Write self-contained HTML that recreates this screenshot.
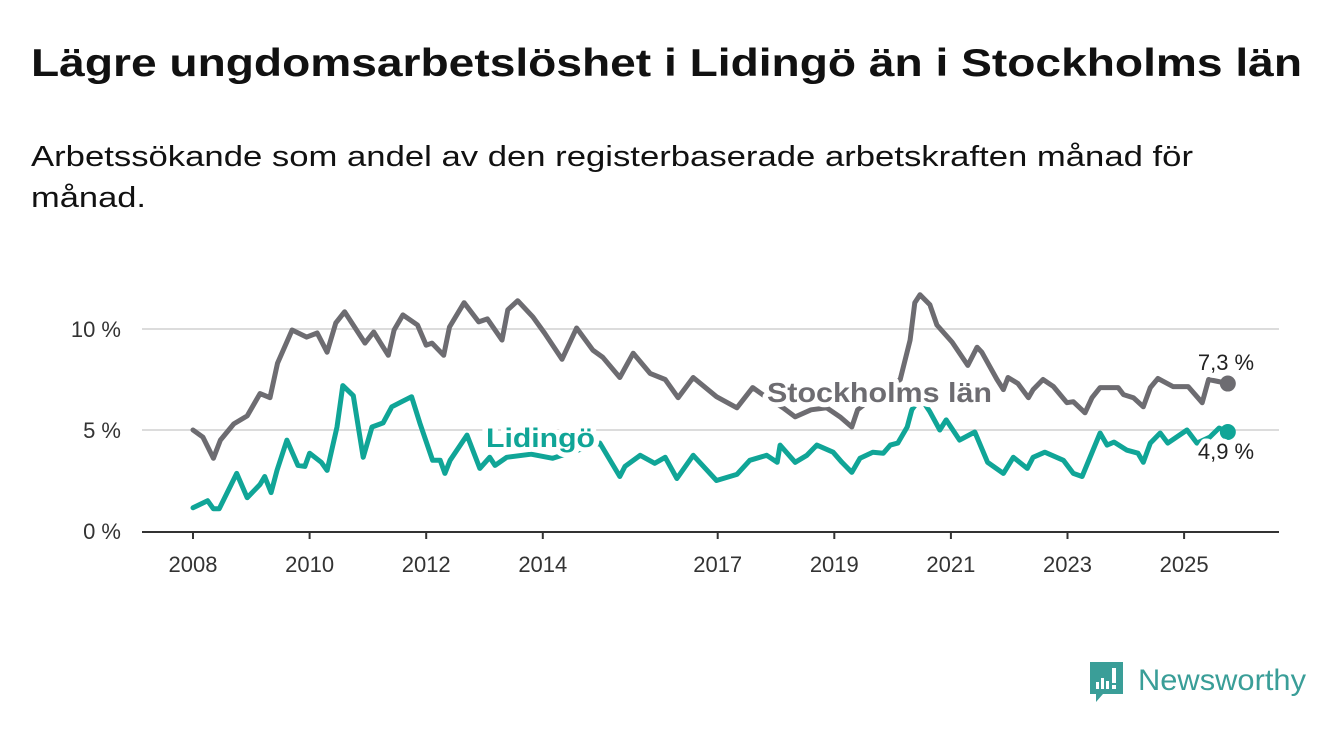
<!DOCTYPE html>
<html><head><meta charset="utf-8">
<style>
html,body{margin:0;padding:0;background:#fff;}
svg{display:block;font-family:"Liberation Sans",sans-serif;}
</style></head>
<body>
<svg id="chart" width="1340" height="734" viewBox="0 0 1340 734" xmlns="http://www.w3.org/2000/svg">
<text x="31" y="76" font-size="39" font-weight="bold" fill="#111" textLength="1271" lengthAdjust="spacingAndGlyphs">Lägre ungdomsarbetslöshet i Lidingö än i Stockholms län</text>
<text x="31" y="166" font-size="29" fill="#111" textLength="1162" lengthAdjust="spacingAndGlyphs">Arbetssökande som andel av den registerbaserade arbetskraften månad för</text>
<text x="31" y="207" font-size="29" fill="#111" textLength="115" lengthAdjust="spacingAndGlyphs">månad.</text>
<g id="grid"></g>
<g id="axes"></g>
<g id="series"></g>
<g id="labels"></g>
<g>
  <path d="M1090 662 h33 v32 h-20 l-7 8 v-8 h-6 z" fill="#3a9e98"/>
  <rect x="1096" y="682" width="3" height="7" fill="#fff"/>
  <rect x="1101" y="678" width="3" height="11" fill="#fff"/>
  <rect x="1106" y="681" width="3" height="8" fill="#fff"/>
  <rect x="1112" y="668" width="4" height="15" fill="#fff"/>
  <rect x="1112" y="685" width="4" height="4" fill="#fff"/>
  <text x="1138" y="690" font-size="30" fill="#3a9e98" textLength="168" lengthAdjust="spacingAndGlyphs">Newsworthy</text>
</g>
<script>
const yTicks = [0, 5, 10];
const yTickLabels = ["0 %", "5 %", "10 %"];
const xTicks = [2008, 2010, 2012, 2014, 2017, 2019, 2021, 2023, 2025];
const sthlmYears = [2008.0,2008.17,2008.35,2008.47,2008.7,2008.93,2009.15,2009.32,2009.45,2009.7,2009.95,2010.13,2010.3,2010.45,2010.6,2010.95,2011.1,2011.35,2011.45,2011.6,2011.85,2012.0,2012.1,2012.3,2012.4,2012.65,2012.9,2013.05,2013.3,2013.4,2013.57,2013.83,2014.03,2014.33,2014.58,2014.86,2015.03,2015.32,2015.55,2015.84,2016.1,2016.32,2016.58,2016.98,2017.33,2017.6,2017.77,2018.12,2018.33,2018.6,2018.87,2019.1,2019.3,2019.4,2019.75,2020.13,2020.3,2020.38,2020.47,2020.64,2020.76,2021.02,2021.29,2021.45,2021.53,2021.79,2021.9,2021.98,2022.15,2022.33,2022.41,2022.58,2022.76,2022.99,2023.1,2023.3,2023.42,2023.56,2023.87,2023.96,2024.13,2024.3,2024.42,2024.55,2024.81,2025.07,2025.31,2025.42,2025.75];
const sthlmValues = [5.0,4.65,3.6,4.5,5.3,5.7,6.8,6.6,8.3,9.95,9.6,9.8,8.85,10.3,10.85,9.3,9.85,8.7,9.95,10.7,10.2,9.2,9.3,8.7,10.1,11.3,10.35,10.5,9.45,10.95,11.4,10.6,9.8,8.5,10.05,8.95,8.6,7.6,8.8,7.8,7.5,6.6,7.6,6.65,6.1,7.1,6.75,6.1,5.65,6.0,6.1,5.65,5.15,6.0,6.8,7.5,9.45,11.3,11.7,11.2,10.2,9.35,8.2,9.1,8.85,7.5,7.0,7.6,7.3,6.6,7.0,7.5,7.15,6.35,6.4,5.85,6.6,7.1,7.1,6.75,6.6,6.15,7.1,7.55,7.15,7.15,6.35,7.5,7.3];
const lidYears = [2008.0,2008.25,2008.35,2008.45,2008.75,2008.93,2009.15,2009.23,2009.34,2009.44,2009.61,2009.8,2009.92,2010.0,2010.2,2010.3,2010.47,2010.57,2010.75,2010.92,2011.07,2011.26,2011.41,2011.58,2011.75,2011.89,2012.11,2012.24,2012.32,2012.41,2012.7,2012.92,2013.09,2013.18,2013.38,2013.8,2014.17,2014.6,2014.98,2015.32,2015.41,2015.67,2015.92,2016.1,2016.3,2016.58,2016.82,2016.98,2017.33,2017.55,2017.84,2018.02,2018.07,2018.33,2018.53,2018.7,2018.98,2019.13,2019.3,2019.44,2019.66,2019.84,2019.96,2020.09,2020.25,2020.33,2020.48,2020.64,2020.81,2020.92,2021.15,2021.41,2021.63,2021.9,2022.07,2022.31,2022.41,2022.61,2022.93,2023.1,2023.25,2023.56,2023.68,2023.8,2024.02,2024.21,2024.3,2024.42,2024.59,2024.72,2025.05,2025.22,2025.44,2025.6,2025.75];
const lidValues = [1.15,1.5,1.1,1.1,2.85,1.65,2.3,2.7,1.9,3.0,4.5,3.25,3.2,3.85,3.4,3.0,5.15,7.2,6.7,3.65,5.15,5.35,6.15,6.4,6.65,5.35,3.5,3.5,2.85,3.5,4.75,3.1,3.65,3.25,3.65,3.8,3.6,4.0,4.35,2.7,3.2,3.75,3.35,3.65,2.6,3.75,3.0,2.5,2.8,3.5,3.75,3.4,4.25,3.4,3.75,4.25,3.9,3.4,2.9,3.6,3.9,3.85,4.25,4.35,5.15,6.0,6.6,5.9,5.0,5.5,4.5,4.9,3.4,2.85,3.65,3.1,3.65,3.9,3.5,2.85,2.7,4.85,4.25,4.4,4.0,3.85,3.4,4.35,4.85,4.35,5.0,4.35,4.65,5.1,4.9];

const NS = "http://www.w3.org/2000/svg";
const X0 = 193, PXY = 58.3, Y0 = 531, PXV = 20.2;
function xScale(yr){ return X0 + (yr - 2008) * PXY; }
function yScale(v){ return Y0 - v * PXV; }
function mk(tag, attrs, parent){ const e = document.createElementNS(NS, tag); for (const k in attrs) e.setAttribute(k, attrs[k]); parent.appendChild(e); return e; }

const grid = document.getElementById('grid');
const axes = document.getElementById('axes');
yTicks.forEach((t, i) => {
  if (t > 0) {
    const gl = mk('line', {x1:142, x2:1279, y1:yScale(t), y2:yScale(t), stroke:'#dcdcdc', 'stroke-width':2}, grid);
    
    
  }
  const tl = mk('text', {x:121, y:yScale(t)+8, 'font-size':22, fill:'#333', 'text-anchor':'end'}, axes);
  tl.textContent = yTickLabels[i];
  
  
});
const ax = mk('line', {x1:142, x2:1279, y1:Y0+1, y2:Y0+1, stroke:'#333', 'stroke-width':2}, axes);


xTicks.forEach(t => {
  const tk = mk('line', {x1:xScale(t), x2:xScale(t), y1:Y0+1, y2:Y0+8, stroke:'#333', 'stroke-width':2}, axes);
  
  
  const tl = mk('text', {x:xScale(t), y:572, 'font-size':22, fill:'#333', 'text-anchor':'middle'}, axes);
  tl.textContent = String(t);
  
  
});

const series = document.getElementById('series');
function drawLine(ys, vs, color, name){
  const d = ys.map((y, i) => (i ? 'L' : 'M') + xScale(y).toFixed(1) + ' ' + yScale(vs[i]).toFixed(1)).join(' ');
  const p = mk('path', {d:d, fill:'none', stroke:color, 'stroke-width':5, 'stroke-linejoin':'round', 'stroke-linecap':'round'}, series);
  
  
  const n = ys.length - 1;
  const c = mk('circle', {cx:xScale(ys[n]), cy:yScale(vs[n]), r:8, fill:color}, series);
  
  
}
drawLine(sthlmYears, sthlmValues, '#6d6c71', 'stockholm');
drawLine(lidYears, lidValues, '#10a597', 'lidingo');

const labels = document.getElementById('labels');
function lab(txt, x, y, size, color, bold, anchor, name, len){
  const a = {x:x, y:y, 'font-size':size, fill:color, 'font-weight':bold?'bold':'normal', 'text-anchor':anchor||'start', stroke:'#fff', 'stroke-width':10, 'stroke-linejoin':'round', 'paint-order':'stroke'};
  if (len) { a.textLength = len; a.lengthAdjust = 'spacingAndGlyphs'; }
  const t = mk('text', a, labels);
  t.textContent = txt;
  
  
}
lab('Stockholms län', 767, 402, 28, '#6d6c71', true, 'start', 'stockholm-series-label', 225);
lab('Lidingö', 486, 447, 27, '#10a597', true, 'start', 'lidingo-series-label', 109);
const ls = sthlmValues.length - 1, ll = lidValues.length - 1;
lab(sthlmValues[ls].toFixed(1).replace('.', ',') + ' %', 1226, 370, 22, '#222', false, 'middle', 'stockholm-end-value');
lab(lidValues[ll].toFixed(1).replace('.', ',') + ' %', 1226, 459, 22, '#222', false, 'middle', 'lidingo-end-value');
</script>
</svg>
</body></html>
